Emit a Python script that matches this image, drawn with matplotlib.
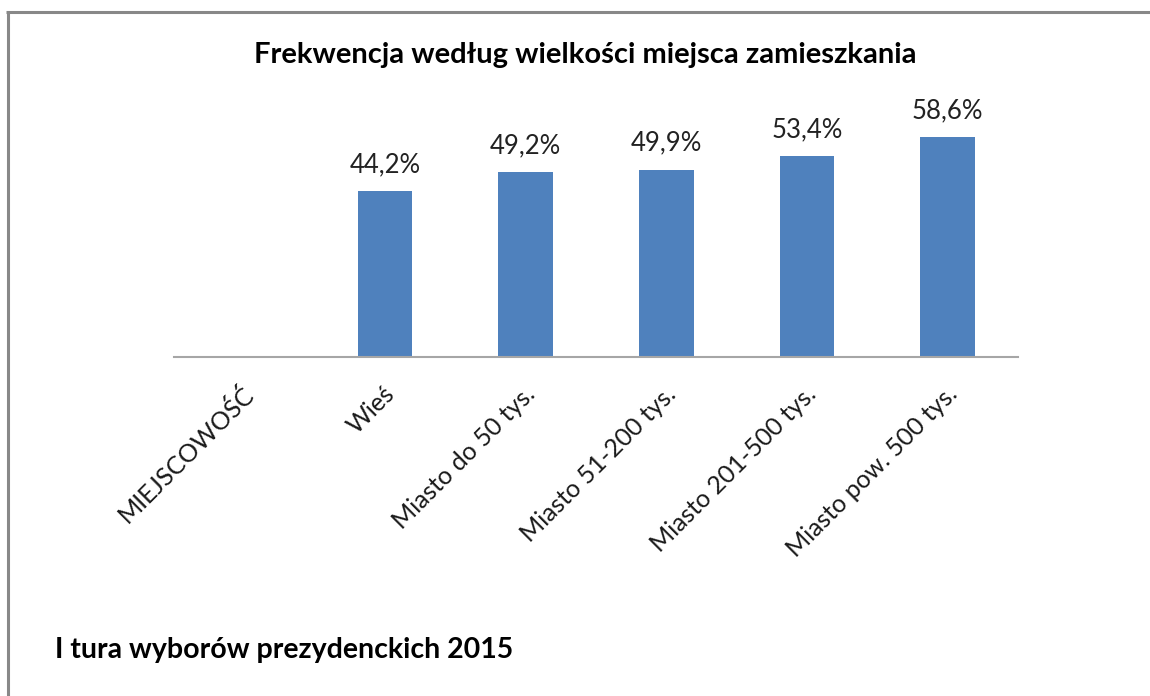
import matplotlib
matplotlib.use("Agg")
import matplotlib.pyplot as plt
from matplotlib.lines import Line2D

categories = ["MIEJSCOWOŚĆ", "Wieś", "Miasto do 50 tys.", "Miasto 51-200 tys.",
              "Miasto 201-500 tys.", "Miasto pow. 500 tys."]
values = [None, 44.2, 49.2, 49.9, 53.4, 58.6]
value_labels = ["", "44,2%", "49,2%", "49,9%", "53,4%", "58,6%"]
title = "Frekwencja według wielkości miejsca zamieszkania"
footer = "I tura wyborów prezydenckich 2015"

plt.rcParams['font.family'] = ['Lato', 'DejaVu Sans']

W, H = 1150, 696
fig = plt.figure(figsize=(W / 100, H / 100), dpi=100)
fig.patch.set_facecolor("white")

ax = fig.add_axes([174 / W, 1 - 357 / H, (1018 - 174) / W, (357 - 94) / H])
xs = list(range(len(categories)))
for x, v in zip(xs, values):
    if v is None:
        continue
    ax.bar(x, v, width=0.39, color="#4F81BD", zorder=2)
for x, v, lab in zip(xs, values, value_labels):
    if v is None:
        continue
    ax.annotate(lab, (x, v), xytext=(0, 10), textcoords="offset points",
                ha="center", va="bottom", fontsize=18.5, color="#222222")

ax.set_xlim(-0.5, len(categories) - 0.5)
ax.set_ylim(0, 70)
for s in ["top", "right", "left"]:
    ax.spines[s].set_visible(False)
ax.spines["bottom"].set_color("#A6A6A6")
ax.spines["bottom"].set_linewidth(1.5)
ax.set_yticks([])
ax.set_xticks(xs)
ax.set_xticklabels([])
ax.tick_params(axis="x", length=0)

for x, lab in zip(xs, categories):
    ax.annotate(lab, (x, 0), xytext=(4, -24), textcoords="offset points",
                rotation=45, rotation_mode="anchor", ha="right", va="center",
                fontsize=18, color="#1a1a1a", annotation_clip=False)

fig.text(585 / W, 1 - 55 / H, title, ha="center", va="center",
         fontsize=21, fontweight="bold", color="black")
fig.text(55 / W, 1 - 650 / H, footer, ha="left", va="center",
         fontsize=20.5, fontweight="bold", color="black")

# outer frame (top and left edges visible)
fig.add_artist(Line2D([7.5 / W, 7.5 / W], [-0.01, 1 - 12 / H], transform=fig.transFigure,
                      color="#888888", linewidth=2.2, solid_capstyle="butt"))
fig.add_artist(Line2D([6.4 / W, 1.02], [1 - 12 / H, 1 - 12 / H], transform=fig.transFigure,
                      color="#888888", linewidth=2.2, solid_capstyle="butt"))

fig.savefig("out.png", dpi=100, facecolor="white")
